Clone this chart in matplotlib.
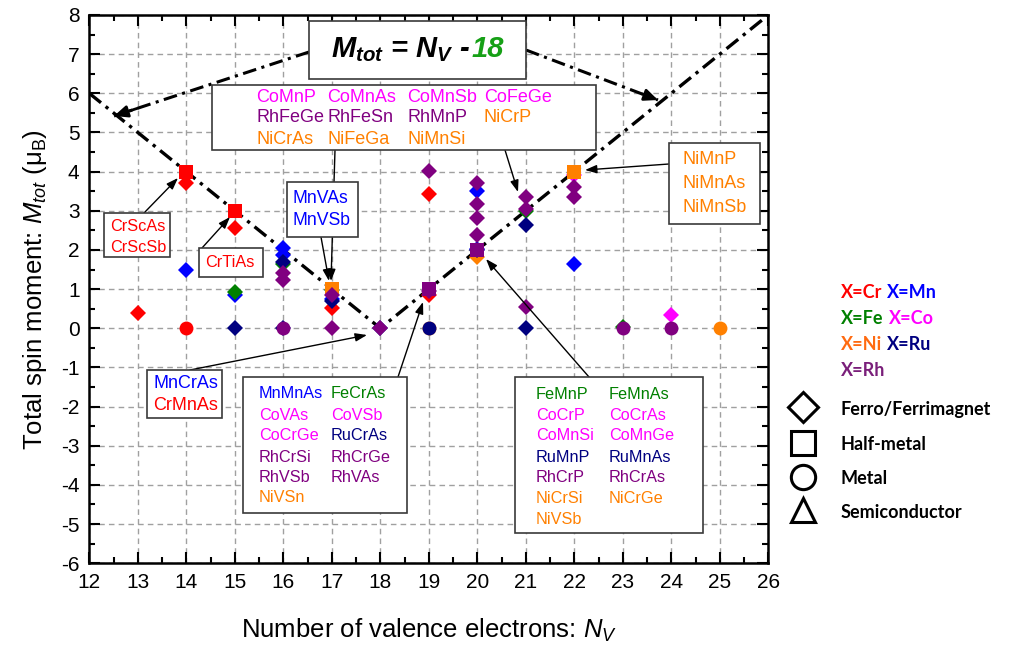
import matplotlib
matplotlib.use('Agg')
import matplotlib.pyplot as plt
from matplotlib.patches import Rectangle
from matplotlib.lines import Line2D
from matplotlib.ticker import MultipleLocator

plt.rcParams['font.family'] = ['Liberation Sans', 'DejaVu Sans']
plt.rcParams['axes.unicode_minus'] = False
plt.rcParams['mathtext.fontset'] = 'custom'
plt.rcParams['mathtext.rm'] = 'Liberation Sans'
plt.rcParams['mathtext.it'] = 'Liberation Sans:italic'
plt.rcParams['mathtext.bf'] = 'Liberation Sans:bold:italic'

# ---------------- data ----------------
# X = Cr
cr_fm_nv = [13, 14, 15, 17, 19, 19]
cr_fm_m = [0.40, 3.70, 2.55, 0.52, 3.43, 0.85]
cr_hm_nv = [14, 15]
cr_hm_m = [4.0, 3.0]
cr_met_nv = [14]
cr_met_m = [0.0]
# X = Mn
mn_fm_nv = [14, 15, 16, 16, 17, 20, 20, 22]
mn_fm_m = [1.48, 0.85, 2.04, 1.88, 0.75, 3.50, 2.02, 1.65]
# X = Fe
fe_fm_nv = [15, 16, 17, 21, 23]
fe_fm_m = [0.92, 1.65, 0.97, 3.00, 0.03]
# X = Co
co_fm_nv = [22, 24]
co_fm_m = [3.92, 0.33]
# X = Ni
ni_fm_nv = [20]
ni_fm_m = [1.82]
ni_hm_nv = [17, 22]
ni_hm_m = [1.0, 4.0]
ni_met_nv = [19, 25]
ni_met_m = [0.0, 0.0]
# X = Ru
ru_fm_nv = [15, 16, 16, 17, 18, 20, 21, 21]
ru_fm_m = [0.0, 1.70, 0.0, 0.70, 0.0, 2.00, 2.63, 0.0]
ru_met_nv = [19]
ru_met_m = [0.0]
# X = Rh
rh_fm_nv = [16, 16, 17, 17, 18, 19, 19, 20, 20, 20, 20, 21, 21, 21, 22, 22]
rh_fm_m = [1.40, 1.22, 0.85, 0.0, 0.0, 4.02, 0.95, 3.72, 3.18, 2.81, 2.39,
           3.35, 3.05, 0.54, 3.60, 3.35]
rh_hm_nv = [19, 20]
rh_hm_m = [1.0, 2.0]
rh_met_nv = [16, 23, 24]
rh_met_m = [0.0, 0.0, 0.0]

# Slater-Pauling rule line
rule_nv = [12, 18, 26]
rule_m = [6, 0, 8]

x_ticks = list(range(12, 27))
y_ticks = list(range(-6, 9))

C_CR, C_MN, C_FE, C_CO = '#ff0000', '#0000ff', '#008000', '#ff00ff'
C_NI, C_RU, C_RH = '#ff8000', '#000080', '#800080'

# ---------------- figure ----------------
W, H = 1011, 651
fig = plt.figure(figsize=(W / 100, H / 100), dpi=100)
AX_L, AX_R, AX_T, AX_B = 89.3, 768.3, 15.0, 563.2
ax = fig.add_axes([AX_L / W, 1 - AX_B / H, (AX_R - AX_L) / W, (AX_B - AX_T) / H])
ax.set_xlim(12, 26)
ax.set_ylim(-6, 8)
ax.set_xticks(x_ticks)
ax.set_yticks(y_ticks)
ax.xaxis.set_minor_locator(MultipleLocator(0.5))
ax.yaxis.set_minor_locator(MultipleLocator(0.5))
ax.tick_params(which='both', direction='in', top=True, right=True, width=1.5)
ax.tick_params(which='major', length=8, labelsize=15, pad=7)
ax.tick_params(which='minor', length=4)
for s in ax.spines.values():
    s.set_linewidth(1.8)
ax.grid(True, which='major', linestyle=(0, (4, 3)), color='#a0a0a0', lw=1)
ax.set_axisbelow(True)

ax.set_xlabel('Number of valence electrons: $N_V$', fontsize=18.5)
ax.set_ylabel('Total spin moment: $M_{tot}$ (μ$_\\mathrm{B}$)', fontsize=18.5)
ax.xaxis.set_label_coords(0.5, -0.097)
ax.yaxis.set_label_coords(-0.060, 0.5)

SX = (AX_R - AX_L) / 14.0
SY = (AX_B - AX_T) / 14.0


def P(px, py):
    return (12 + (px - AX_L) / SX, 8 - (py - AX_T) / SY)


# rule line
ax.plot(rule_nv, rule_m, color='black', lw=2.4,
        linestyle=(0, (4.5, 1.8, 1.0, 1.8)), zorder=2)

# markers
DS, SS, CS = 8.6, 9.5, 10

def pts(nv, m, marker, color, ms):
    ax.plot(nv, m, linestyle='none', marker=marker, color=color,
            markersize=ms, markeredgewidth=0, zorder=3)

pts(cr_fm_nv, cr_fm_m, 'D', C_CR, DS)
pts(cr_hm_nv, cr_hm_m, 's', C_CR, SS)
pts(cr_met_nv, cr_met_m, 'o', C_CR, CS)
pts(mn_fm_nv, mn_fm_m, 'D', C_MN, DS)
pts(fe_fm_nv, fe_fm_m, 'D', C_FE, DS)
pts(co_fm_nv, co_fm_m, 'D', C_CO, DS)
pts(ni_fm_nv, ni_fm_m, 'D', C_NI, DS)
pts(ni_hm_nv, ni_hm_m, 's', C_NI, SS)
pts(ni_met_nv, ni_met_m, 'o', C_NI, CS)
pts(ru_fm_nv, ru_fm_m, 'D', C_RU, DS)
pts(ru_met_nv, ru_met_m, 'o', C_RU, CS)
pts(rh_fm_nv, rh_fm_m, 'D', C_RH, DS)
pts(rh_hm_nv, rh_hm_m, 's', C_RH, SS)
pts(rh_met_nv, rh_met_m, 'o', C_RH, CS)


def box(l, t, r, b):
    x0, y0 = P(l, b)
    ax.add_patch(Rectangle((x0, y0), (r - l) / SX, (b - t) / SY,
                           facecolor='white', edgecolor='#3a3a3a', lw=1.2,
                           zorder=5))


def txt(px, py, s, color, size=11.7):
    x, y = P(px, py)
    ax.text(x, y, s, color=color, fontsize=size, ha='left', va='center',
            zorder=6)


def arrow(start, tip):
    ax.annotate('', xy=P(*tip), xytext=P(*start),
                arrowprops=dict(arrowstyle='-|>,head_length=0.7,head_width=0.25',
                                color='black', lw=1.0, shrinkA=0, shrinkB=0),
                zorder=4)


# title box
box(309, 21, 526, 79)
tx, ty = P(335, 57)
t1 = ax.text(tx, ty, r'$\mathbf{M_{tot}}$ = $\mathbf{N_V}$ -', fontsize=21,
             fontweight='bold', fontstyle='italic', ha='left', va='baseline',
             zorder=6)
t2 = ax.text(tx, ty, '18', fontsize=21, fontweight='bold', fontstyle='italic',
             color='#16a016', ha='left', va='baseline', zorder=6)
fig.canvas.draw()
r = fig.canvas.get_renderer()
w1 = t1.get_window_extent(r).width
w2 = t2.get_window_extent(r).width
total = w1 + 2 + w2
start_px = 417.5 - total / 2
t1.set_position(P(start_px, 57))
t2.set_position(P(start_px + w1 + 2, 57))

# dash-dot arrows from the title box
for (s, t) in [((309, 52), (114, 116)), ((526, 50), (658, 100))]:
    (x0, y0), (x1, y1) = P(*s), P(*t)
    ax.plot([x0, x1], [y0, y1], color='black', lw=2.2,
            linestyle=(0, (4.5, 1.8, 1.0, 1.8)), zorder=4)
    bx = x1 + (x0 - x1) * 0.12
    by = y1 + (y0 - y1) * 0.12
    ax.annotate('', xy=(x1, y1), xytext=(bx, by),
                arrowprops=dict(arrowstyle='-|>,head_length=0.8,head_width=0.35',
                                color='black', lw=2.0, shrinkA=0, shrinkB=0),
                zorder=4)

# big top box
box(212, 85, 596, 150)
big_rows = [
    [('CoMnP', C_CO), ('CoMnAs', C_CO), ('CoMnSb', C_CO), ('CoFeGe', C_CO)],
    [('RhFeGe', C_RH), ('RhFeSn', C_RH), ('RhMnP', C_RH), ('NiCrP', C_NI)],
    [('NiCrAs', C_NI), ('NiFeGa', C_NI), ('NiMnSi', C_NI)],
]
for row, yy in zip(big_rows, [97, 118, 139]):
    for (s, c), xx in zip(row, [256, 327, 407, 484]):
        txt(xx, yy, s, c, 13)
arrow((335, 150), (331, 281))
arrow((505, 150), (518, 192))

# NiMnP box
box(669, 143, 760, 224)
for s, yy in zip(['NiMnP', 'NiMnAs', 'NiMnSb'], [160, 183, 207]):
    txt(683, yy, s, C_NI, 13)
arrow((669, 164), (585, 170))

# CrScAs box
box(104, 213, 170, 257)
txt(110, 226, 'CrScAs', C_CR)
txt(110, 247, 'CrScSb', C_CR)
arrow((144, 213), (178, 178))

# CrTiAs box
box(199, 248, 263, 277)
txt(205, 262, 'CrTiAs', C_CR)
arrow((202, 248), (230, 217))

# MnVAs box
box(287, 182, 358, 237)
txt(293, 198, 'MnVAs', C_MN, 12.7)
txt(293, 220, 'MnVSb', C_MN, 12.7)
arrow((321, 237), (329, 281))

# MnCrAs box
box(147, 370, 222, 418)
txt(153, 383, 'MnCrAs', C_MN, 13)
txt(153, 405, 'CrMnAs', C_CR, 13)
arrow((190, 370), (367, 335))

# MnMnAs box
box(243, 377, 407, 513)
mm_rows = [
    [('MnMnAs', C_MN), ('FeCrAs', C_FE)],
    [('CoVAs', C_CO), ('CoVSb', C_CO)],
    [('CoCrGe', C_CO), ('RuCrAs', C_RU)],
    [('RhCrSi', C_RH), ('RhCrGe', C_RH)],
    [('RhVSb', C_RH), ('RhVAs', C_RH)],
    [('NiVSn', C_NI)],
]
for row, yy in zip(mm_rows, [393, 415, 436, 457, 477, 497]):
    for (s, c), xx in zip(row, [259, 331]):
        txt(xx, yy, s, c)
arrow((398, 377), (423, 302))

# FeMnP box
box(515, 377, 703, 533)
fm_rows = [
    [('FeMnP', C_FE), ('FeMnAs', C_FE)],
    [('CoCrP', C_CO), ('CoCrAs', C_CO)],
    [('CoMnSi', C_CO), ('CoMnGe', C_CO)],
    [('RuMnP', C_RU), ('RuMnAs', C_RU)],
    [('RhCrP', C_RH), ('RhCrAs', C_RH)],
    [('NiCrSi', C_NI), ('NiCrGe', C_NI)],
    [('NiVSb', C_NI)],
]
for row, yy in zip(fm_rows, [394, 415, 436, 457, 477, 498, 520]):
    for (s, c), xx in zip(row, [536, 609]):
        txt(xx, yy, s, c)
arrow((589, 377), (486, 259))

# ---------------- right-side legend ----------------
def ftxt(px, py, s, color):
    fig.text(px / W, 1 - py / H, s, color=color, fontsize=13,
             family=['Lato', 'DejaVu Sans'], fontweight='bold',
             ha='left', va='center')

ftxt(841, 293, 'X=Cr', C_CR)
ftxt(887, 293, 'X=Mn', C_MN)
ftxt(841, 319, 'X=Fe', C_FE)
ftxt(889, 319, 'X=Co', C_CO)
ftxt(841, 344, 'X=Ni', '#ff6a10')
ftxt(887, 344, 'X=Ru', C_RU)
ftxt(841, 370, 'X=Rh', '#7a1f7a')

for mk, ms, py, s in [('D', 15.5, 407, 'Ferro/Ferrimagnet'),
                      ('s', 17, 443, 'Half-metal'),
                      ('o', 17.5, 477, 'Metal'),
                      ('^', 17, 510, 'Semiconductor')]:
    fig.add_artist(Line2D([803 / W], [1 - py / H], transform=fig.transFigure,
                          marker=mk, markersize=ms, markerfacecolor='white',
                          markeredgecolor='black', markeredgewidth=2.2,
                          linestyle='none'))
    ftxt(841, py + 2, s, 'black')

fig.savefig('out.png', dpi=100)
